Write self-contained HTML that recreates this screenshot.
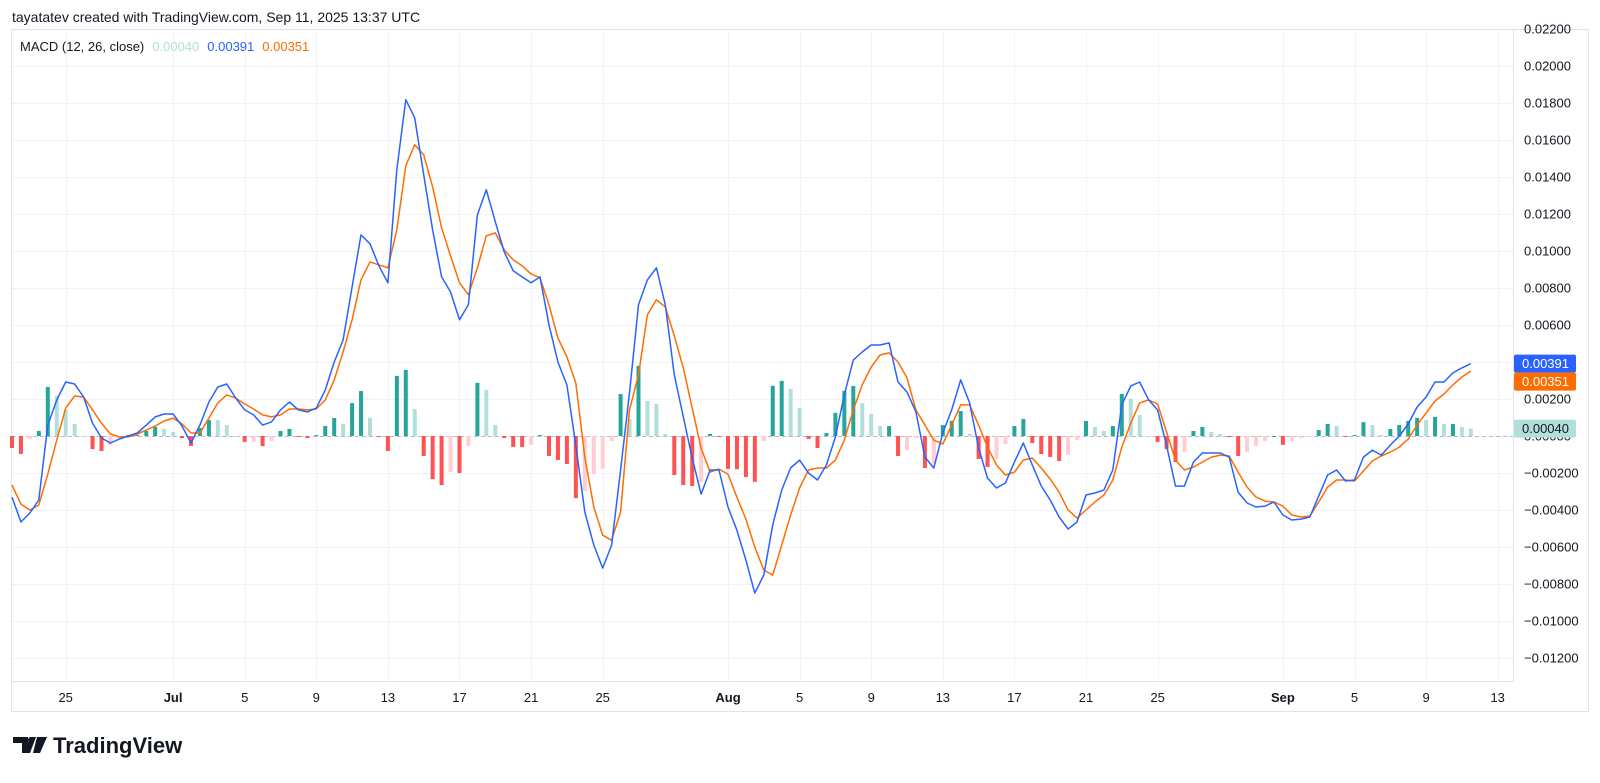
<!DOCTYPE html>
<html><head><meta charset="utf-8"><style>
body{margin:0;background:#fff;width:1600px;height:778px;overflow:hidden;font-family:"Liberation Sans",sans-serif;}
svg text{font-family:"Liberation Sans",sans-serif;}
</style></head><body>
<svg id="chart" width="1600" height="778" xmlns="http://www.w3.org/2000/svg">
<text x="12" y="22" font-size="14" fill="#131722">tayatatev created with TradingView.com, Sep 11, 2025 13:37 UTC</text>
<rect x="11.5" y="29.5" width="1577" height="682" fill="none" stroke="#e0e3eb"/>
<line x1="1513.5" y1="29" x2="1513.5" y2="681" stroke="#e0e3eb"/>
<line x1="11" y1="681.5" x2="1513" y2="681.5" stroke="#e0e3eb"/>
<g id="grid"></g><g id="hist"></g><g id="lines"></g><g id="axes"></g>
<text x="20" y="51" font-size="13"><tspan fill="#131722">MACD (12, 26, close)</tspan><tspan fill="#b2dfdb" dx="8">0.00040</tspan><tspan fill="#2962ff" dx="8">0.00391</tspan><tspan fill="#ff6d00" dx="8">0.00351</tspan></text>
<g>
<path d="M13 737h15v16h-6v-10h-9z M30 737h6l-6 16h-6z" fill="#131722"/>
<circle cx="31" cy="740" r="3" fill="#131722"/>
<path d="M37 737h10l-7 16h-7z" fill="#131722"/>
<text x="53" y="753" font-size="22" font-weight="bold" fill="#131722">TradingView</text>
</g>
</svg>
<script>
const macdValues=[-0.00330,-0.00465,-0.00416,-0.00346,0.00059,0.00195,0.00292,0.00281,0.00211,0.00070,
-0.00011,-0.00038,-0.00016,0,0.00016,0.00059,0.00103,0.00119,0.00119,0.00054,
-0.00038,0.00059,0.00184,0.00265,0.00281,0.00205,0.00141,0.00114,0.00059,0.00076,
0.00141,0.00184,0.00141,0.00130,0.00151,0.00249,0.00400,0.00519,0.00806,0.01087,
0.01039,0.00920,0.00828,0.01439,0.01818,0.01720,0.01412,0.01114,0.00860,0.00779,
0.00628,0.00709,0.01196,0.01331,0.01158,0.00995,0.00893,0.00860,0.00828,0.00860,
0.00601,0.00400,0.00276,-0.00049,-0.00411,-0.00590,-0.00714,-0.00590,-0.00184,0.00233,
0.00709,0.00844,0.00909,0.00709,0.00330,0.00103,-0.00119,-0.00314,-0.00184,-0.00184,
-0.00384,-0.00509,-0.00671,-0.00849,-0.00752,-0.00481,-0.00292,-0.00173,-0.00130,-0.00200,
-0.00238,-0.00157,-0.00005,0.00222,0.00411,0.00454,0.00492,0.00492,0.00503,0.00292,
0.00238,0.00130,-0.00114,-0.00173,0.00016,0.00141,0.00303,0.00179,-0.00065,-0.00227,
-0.00281,-0.00254,-0.00141,-0.00038,-0.00157,-0.00271,-0.00346,-0.00438,-0.00503,-0.00465,
-0.00319,-0.00308,-0.00292,-0.00184,0.00168,0.00271,0.00292,0.00195,0.00141,-0.00049,
-0.00271,-0.00271,-0.00141,-0.00092,-0.00092,-0.00092,-0.00114,-0.00303,-0.00362,-0.00384,
-0.00379,-0.00357,-0.00427,-0.00454,-0.00449,-0.00438,-0.00325,-0.00211,-0.00184,-0.00243,
-0.00238,-0.00114,-0.00076,-0.00103,-0.00049,0,0.00065,0.00157,0.00211,0.00292,
0.00292,0.00341,0.00368,0.00391];
const signalValues=[-0.00265,-0.00368,-0.00400,-0.00373,-0.00206,-0.00022,0.00151,0.00216,0.00211,0.00141,
0.00070,0.00011,-0.00005,-0.00005,0.00011,0.00032,0.00054,0.00081,0.00097,0.00065,
0.00016,0.00016,0.00097,0.00179,0.00222,0.00205,0.00173,0.00146,0.00114,0.00103,
0.00114,0.00146,0.00146,0.00141,0.00146,0.00195,0.00303,0.00454,0.00628,0.00844,
0.00941,0.00925,0.00909,0.01114,0.01461,0.01574,0.01520,0.01347,0.01125,0.00974,
0.00828,0.00763,0.00909,0.01082,0.01098,0.01006,0.00952,0.00920,0.00876,0.00855,
0.00709,0.00530,0.00427,0.00287,-0.00114,-0.00384,-0.00536,-0.00563,-0.00411,0.00141,
0.00330,0.00655,0.00736,0.00698,0.00541,0.00368,0.00151,-0.00065,-0.00195,-0.00179,
-0.00206,-0.00330,-0.00449,-0.00601,-0.00725,-0.00752,-0.00590,-0.00427,-0.00281,-0.00184,
-0.00173,-0.00173,-0.00130,-0.00022,0.00141,0.00276,0.00373,0.00438,0.00449,0.00400,
0.00314,0.00141,0.00059,-0.00022,-0.00043,0.00059,0.00168,0.00168,0.00059,-0.00060,
-0.00157,-0.00211,-0.00195,-0.00130,-0.00119,-0.00173,-0.00233,-0.00303,-0.00400,-0.00444,
-0.00400,-0.00357,-0.00319,-0.00238,-0.00060,0.00070,0.00179,0.00195,0.00173,0.00022,
-0.00130,-0.00184,-0.00168,-0.00141,-0.00114,-0.00103,-0.00108,-0.00195,-0.00276,-0.00330,
-0.00352,-0.00357,-0.00379,-0.00427,-0.00438,-0.00433,-0.00357,-0.00276,-0.00238,-0.00238,
-0.00243,-0.00189,-0.00135,-0.00108,-0.00087,-0.00060,-0.00016,0.00059,0.00124,0.00189,
0.00227,0.00276,0.00319,0.00351];
const yTicks=[0.022,0.020,0.018,0.016,0.014,0.012,0.010,0.008,0.006,0.004,0.002,0,-0.002,-0.004,-0.006,-0.008,-0.010,-0.012];
const dateTickDays=[3,9,13,17,21,25,29,33,40,44,48,52,56,60,64,71,75,79,83];
const dateTickLabels=["25","Jul","5","9","13","17","21","25","Aug","5","9","13","17","21","25","Sep","5","9","13"];
const stepDays=0.5;

const NS="http://www.w3.org/2000/svg";
const xDay=d=>12+d*17.9;
const xIdx=i=>xDay(i*stepDays);
const yVal=v=>436-v*18500;
function mk(tag,attrs,parent){const e=document.createElementNS(NS,tag);for(const k in attrs)e.setAttribute(k,attrs[k]);parent.appendChild(e);return e;}
const grid=document.getElementById('grid'),axes=document.getElementById('axes'),hist=document.getElementById('hist'),lines=document.getElementById('lines');

yTicks.forEach(v=>{
  const y=Math.round(yVal(v))+0.5;
  if(y>30&&y<681){const l=mk('line',{x1:12,x2:1513,y1:y,y2:y,stroke:'#f0f3fa'},grid);
  
  }
  const t=mk('text',{x:1524,y:yVal(v)+4.5,'font-size':13,fill:'#131722'},axes);
  
  
  t.textContent=(v<0?'\u22120.':'0.')+Math.abs(v).toFixed(5).split('.')[1];
});
dateTickDays.forEach((d,k)=>{
  const x=Math.round(xDay(d))+0.5;
  const l=mk('line',{x1:x,x2:x,y1:30,y2:681,stroke:'#f0f3fa'},grid);
  
  
  const lab=dateTickLabels[k];
  const t=mk('text',{x:xDay(d),y:702,'font-size':13,'text-anchor':'middle',fill:'#131722','font-weight':/[A-Za-z]/.test(lab)?'bold':'normal'},axes);
  
  
  t.textContent=lab;
});
const zl=mk('line',{x1:12,x2:1513,y1:yVal(0)+0.5,y2:yVal(0)+0.5,stroke:'#9598a1','stroke-dasharray':'4 3','stroke-width':1,opacity:0.6},grid);



let prev=0;
macdValues.forEach((m,i)=>{
  const h=m-signalValues[i];
  let c;
  if(h>=0)c=h>=prev?'#26a69a':'#b2dfdb';else c=h<prev?'#ff5252':'#ffcdd2';
  const y0=yVal(0),y1=yVal(h);
  const b=mk('rect',{x:xIdx(i)-2,y:Math.min(y0,y1),width:4,height:Math.max(1,Math.abs(y1-y0)),fill:c},hist);
  
  
  prev=h;
});
function line(vals,color,name){
  const d=vals.map((v,i)=>(i?'L':'M')+xIdx(i).toFixed(1)+' '+yVal(v).toFixed(1)).join(' ');
  const p=mk('path',{d:d,fill:'none',stroke:color,'stroke-width':1.5,'stroke-linejoin':'round'},lines);
  
  
}
line(signalValues,'#ff6d00','signal-line');
line(macdValues,'#2962ff','macd-line');

const lastM=macdValues[macdValues.length-1],lastS=signalValues[signalValues.length-1];
const lastH=lastM-lastS;
{
  const y=yVal(lastH);
  const r=mk('rect',{x:1514,y:y-9,width:62,height:18,rx:2,fill:'#b2dfdb'},axes);
  
  
  const t=mk('text',{x:1522,y:y+4.5,'font-size':13,fill:'#131722'},axes);
  
  
  t.textContent=lastH.toFixed(5);
}
const bm=yVal(lastM),bs=Math.max(yVal(lastS),bm+18);
[[lastM,bm,'#2962ff','macd-value-badge'],[lastS,bs,'#ff6d00','signal-value-badge']].forEach(([v,y,bg,name])=>{
  const r=mk('rect',{x:1514,y:y-9,width:62,height:18,rx:2,fill:bg},axes);
  
  
  const t=mk('text',{x:1522,y:y+4.5,'font-size':13,fill:'#fff'},axes);
  
  
  t.textContent=v.toFixed(5);
});
</script>
</body></html>
